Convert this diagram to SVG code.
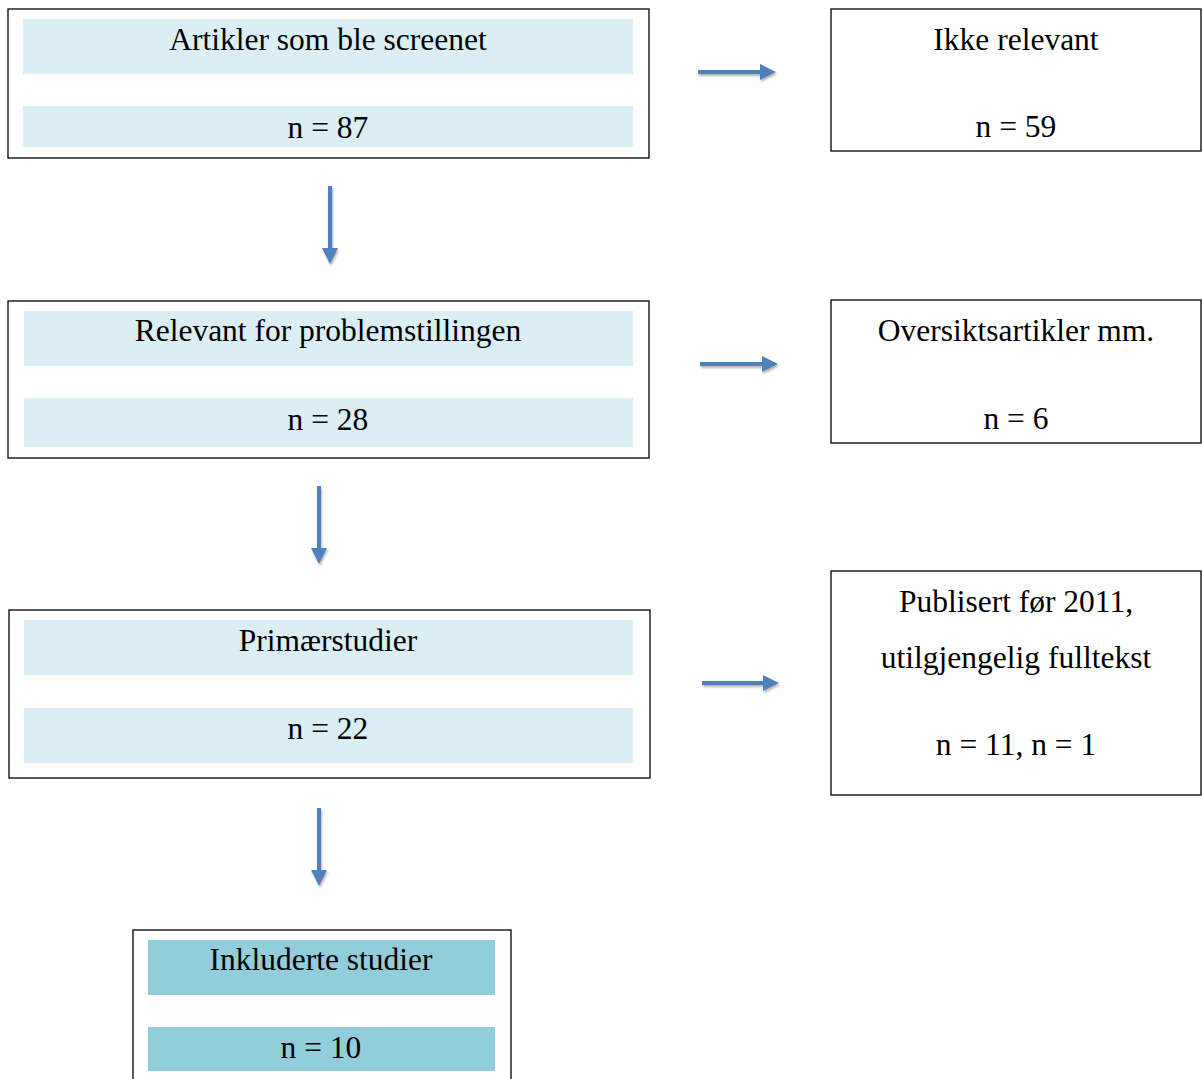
<svg xmlns="http://www.w3.org/2000/svg" width="1202" height="1079" viewBox="0 0 1202 1079">
<style>
.frame{fill:#fff;stroke:#000;stroke-width:1.3}
.band{fill:#DAEEF3}
.band2{fill:#92CDDC}
text{font-family:"Liberation Serif","Times New Roman",serif;font-size:31.5px;fill:#000;text-anchor:middle}
.arr{stroke:#4F81BD;stroke-width:4;fill:none}
.head{fill:#4F81BD}
</style>
<defs>
<filter id="sh" x="-20%" y="-20%" width="140%" height="140%">
<feDropShadow dx="1" dy="2" stdDeviation="1.2" flood-color="#000" flood-opacity="0.3"/>
</filter>
</defs>
<rect width="1202" height="1079" fill="#fff"/>
<g id="n1">
<rect class="frame" x="8" y="9" width="641" height="149"/>
<rect class="band" x="23" y="19" width="610" height="55"/>
<rect class="band" x="23" y="106" width="610" height="41"/>
<text x="328" y="50">Artikler som ble screenet</text>
<text x="328" y="138">n = 87</text>
</g>
<g id="n2">
<rect class="frame" x="831" y="9" width="370" height="142"/>
<text x="1016" y="50">Ikke relevant</text>
<text x="1016" y="137">n = 59</text>
</g>
<g id="n3">
<rect class="frame" x="8" y="301" width="641" height="157"/>
<rect class="band" x="24" y="311" width="609" height="55"/>
<rect class="band" x="24" y="398" width="609" height="49"/>
<text x="328" y="341">Relevant for problemstillingen</text>
<text x="328" y="430">n = 28</text>
</g>
<g id="n4">
<rect class="frame" x="831" y="300" width="370" height="143"/>
<text x="1016" y="341">Oversiktsartikler mm.</text>
<text x="1016" y="429">n = 6</text>
</g>
<g id="n5">
<rect class="frame" x="9" y="610" width="641" height="168"/>
<rect class="band" x="24" y="620" width="609" height="55"/>
<rect class="band" x="24" y="708" width="609" height="55"/>
<text x="328" y="651">Primærstudier</text>
<text x="328" y="739">n = 22</text>
</g>
<g id="n6">
<rect class="frame" x="831" y="571" width="370" height="224"/>
<text x="1016" y="612">Publisert før 2011,</text>
<text x="1016" y="668">utilgjengelig fulltekst</text>
<text x="1016" y="755">n = 11, n = 1</text>
</g>
<g id="n7">
<rect class="frame" x="133" y="930" width="378" height="160"/>
<rect class="band2" x="148" y="940" width="347" height="55"/>
<rect class="band2" x="148" y="1027" width="347" height="44"/>
<text x="321" y="970">Inkluderte studier</text>
<text x="321" y="1058">n = 10</text>
</g>
<g id="connectors" filter="url(#sh)">
<line class="arr" x1="698" y1="72" x2="762" y2="72"/>
<polygon class="head" points="760,64 776,72 760,80"/>
<line class="arr" x1="700" y1="364" x2="764" y2="364"/>
<polygon class="head" points="762,356 778,364 762,372"/>
<line class="arr" x1="702" y1="683" x2="765" y2="683"/>
<polygon class="head" points="763,675 779,683 763,691"/>
<line class="arr" x1="330" y1="186" x2="330" y2="250"/>
<polygon class="head" points="322,248 330,264 338,248"/>
<line class="arr" x1="319" y1="486" x2="319" y2="550"/>
<polygon class="head" points="311,548 319,564 327,548"/>
<line class="arr" x1="319" y1="808" x2="319" y2="872"/>
<polygon class="head" points="311,870 319,886 327,870"/>
</g>
</svg>
